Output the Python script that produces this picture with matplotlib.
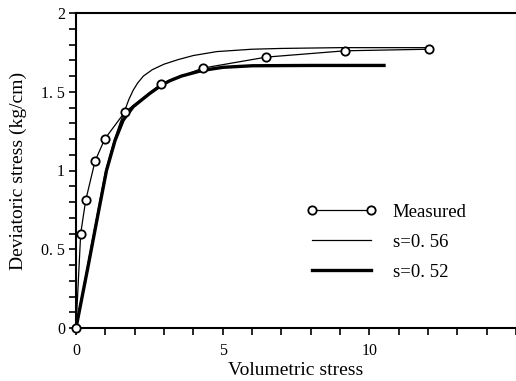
import matplotlib
matplotlib.use('Agg')
import matplotlib.pyplot as plt
from matplotlib.ticker import MultipleLocator, FixedLocator

plt.rcParams['font.family'] = ['Liberation Serif', 'DejaVu Serif']

# measured points
meas_x = [0.0, 0.16, 0.33, 0.65, 0.98, 1.66, 2.90, 4.32, 6.49, 9.17, 12.02]
meas_y = [0.0, 0.60, 0.81, 1.06, 1.20, 1.37, 1.55, 1.65, 1.72, 1.76, 1.77]

# model curve s=0.56
s56_x = [0.0, 0.5, 1.0, 1.3, 1.5, 1.66, 1.8, 1.95, 2.1, 2.3, 2.6, 3.0, 3.5, 4.0, 4.8, 6.0, 7.0, 9.0, 12.0]
s56_y = [0.0, 0.50, 0.99, 1.19, 1.30, 1.38, 1.45, 1.51, 1.555, 1.60, 1.64, 1.675, 1.705, 1.73, 1.755, 1.77, 1.775, 1.78, 1.78]

# model curve s=0.52
s52_x = [0.0, 0.4, 0.8, 1.04, 1.33, 1.61, 1.95, 2.52, 2.9, 3.2, 3.6, 4.3, 5.0, 6.0, 8.0, 10.5]
s52_y = [0.0, 0.38, 0.77, 1.00, 1.19, 1.32, 1.405, 1.49, 1.54, 1.57, 1.60, 1.635, 1.655, 1.665, 1.667, 1.667]

y_ticks = [0, 0.5, 1, 1.5, 2]
y_ticklabels = ['0', '0. 5', '1', '1. 5', '2']
x_ticks = [0, 5, 10]
x_ticklabels = ['0', '5', '10']

fig = plt.figure(figsize=(5.16, 3.81), dpi=100)
ax = fig.add_axes([76 / 516, 53 / 381, 440 / 516, 315 / 381])

ax.plot(meas_x, meas_y, color='black', lw=0.9, marker='o', ms=6,
        mfc='white', mec='black', mew=1.3, label='Measured', zorder=4, clip_on=False)
ax.plot(s56_x, s56_y, color='black', lw=0.9, label='s=0. 56', zorder=3)
ax.plot(s52_x, s52_y, color='black', lw=2.4, label='s=0. 52', zorder=3)

ax.set_xlim(0, 15)
ax.set_ylim(0, 2)
ax.xaxis.set_major_locator(FixedLocator(x_ticks))
ax.set_xticklabels(x_ticklabels)
ax.xaxis.set_minor_locator(MultipleLocator(1))
ax.yaxis.set_major_locator(FixedLocator(y_ticks))
ax.set_yticklabels(y_ticklabels)
ax.yaxis.set_minor_locator(MultipleLocator(0.1))
ax.tick_params(which='both', direction='out', length=5, width=1.2, labelsize=11.5)
ax.tick_params(axis='x', pad=6)
ax.tick_params(axis='y', pad=3)
ax.spines['right'].set_visible(False)
for sp in ['left', 'bottom', 'top']:
    ax.spines[sp].set_linewidth(1.5)

ax.set_xlabel('Volumetric stress', fontsize=14, labelpad=2)
ax.set_ylabel('Deviatoric stress (kg/cm)', fontsize=14, labelpad=10)

leg = ax.legend(loc='upper left', bbox_to_anchor=(0.507, 0.418), frameon=False,
                fontsize=13.5, handlelength=3.75, handletextpad=0.85,
                labelspacing=0.68, numpoints=2, borderaxespad=0)

fig.savefig('out.png', dpi=100)
